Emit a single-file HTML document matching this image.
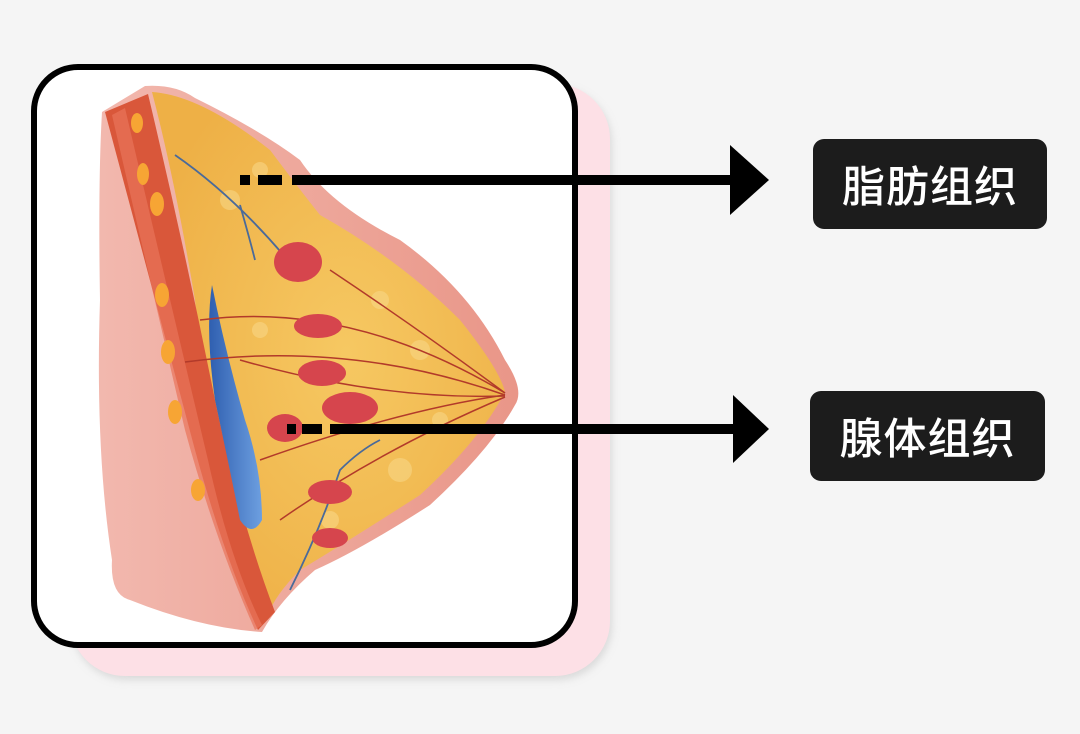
<!DOCTYPE html>
<html><head><meta charset="utf-8"><style>
html,body{margin:0;padding:0;background:#f5f5f5;}
body{width:1080px;height:734px;position:relative;overflow:hidden;font-family:"Liberation Sans","Noto Sans CJK SC",sans-serif;}
.lbl{position:absolute;background:#1c1c1c;color:#fff;border-radius:11px;font-size:43px;font-weight:500;display:flex;align-items:center;justify-content:center;letter-spacing:1px;}
</style></head><body>
<svg width="1080" height="734" style="position:absolute;left:0;top:0">
<defs>
<filter id="sh" x="-10%" y="-10%" width="130%" height="130%"><feGaussianBlur stdDeviation="4"/></filter>
<radialGradient id="fat" cx="55%" cy="50%" r="60%"><stop offset="0" stop-color="#f6c862"/><stop offset="1" stop-color="#eeb046"/></radialGradient>
<linearGradient id="skin" x1="0" x2="1"><stop offset="0" stop-color="#f2b8ae"/><stop offset="1" stop-color="#e99688"/></linearGradient>
<linearGradient id="blue" x1="0" x2="1"><stop offset="0" stop-color="#2f5fb0"/><stop offset="1" stop-color="#6d9fe0"/></linearGradient>
</defs>
<rect x="72" y="88" width="540" height="592" rx="55" fill="#c8c8c8" filter="url(#sh)" opacity="0.6"/>
<rect x="70" y="84" width="540" height="592" rx="55" fill="#fde0e6"/>
<rect x="34" y="67" width="541" height="578" rx="44" fill="#fff" stroke="#000" stroke-width="6"/>
<!-- skin outline -->
<path d="M102,112 L145,86 Q175,84 195,98 Q260,130 300,160 Q330,205 400,240 Q470,290 505,360 Q525,390 515,405 Q490,450 430,505 Q360,550 315,570 Q280,600 262,632 Q200,628 130,600 Q110,595 112,560 Q95,450 100,300 Q98,180 102,112 Z" fill="url(#skin)"/>
<!-- fat -->
<path d="M152,92 Q200,95 270,150 Q300,190 320,215 Q400,260 460,320 Q500,370 505,392 Q480,440 420,495 Q350,540 300,570 Q275,595 268,615 Q240,560 225,500 Q205,400 195,300 Q175,180 152,92 Z" fill="url(#fat)"/>
<g fill="#f9d98a" opacity="0.55">
<circle cx="230" cy="200" r="10"/><circle cx="260" cy="170" r="8"/><circle cx="380" cy="300" r="9"/><circle cx="420" cy="350" r="10"/><circle cx="400" cy="470" r="12"/><circle cx="330" cy="520" r="9"/><circle cx="260" cy="330" r="8"/><circle cx="440" cy="420" r="8"/>
</g>
<!-- muscle -->
<path d="M105,112 L148,94 Q185,250 215,400 Q240,520 275,612 L258,630 Q225,560 195,450 Q150,280 105,112 Z" fill="#d9573a"/>
<path d="M112,115 L125,108 Q170,300 208,460 Q230,560 262,625 L255,630 Q215,540 185,430 Q150,280 112,115 Z" fill="#e8735a" opacity="0.7"/>
<g fill="#f7a534">
<ellipse cx="157" cy="204" rx="7" ry="12"/><ellipse cx="137" cy="123" rx="6" ry="10"/><ellipse cx="143" cy="174" rx="6" ry="11"/><ellipse cx="162" cy="295" rx="7" ry="12"/><ellipse cx="168" cy="352" rx="7" ry="12"/><ellipse cx="175" cy="412" rx="7" ry="12"/><ellipse cx="198" cy="490" rx="7" ry="11"/>
</g>
<!-- blue vessel -->
<path d="M212,285 Q205,330 215,400 Q230,470 240,520 Q252,538 262,520 Q262,470 245,420 Q225,350 212,285 Z" fill="url(#blue)"/>
<!-- ducts -->
<g stroke="#b23a2a" stroke-width="1.5" fill="none">
<path d="M185,362 Q350,340 505,395"/><path d="M200,320 Q350,300 505,393"/><path d="M260,460 Q400,410 505,395"/><path d="M280,520 Q380,450 505,397"/><path d="M330,270 Q420,330 505,393"/><path d="M240,360 Q380,400 505,396"/>
</g>
<g stroke="#4a6a9a" stroke-width="1.8" fill="none">
<path d="M175,155 Q240,200 300,275"/><path d="M240,205 Q250,240 255,260"/><path d="M290,590 Q320,530 340,470 Q360,450 380,440"/>
</g>
<!-- glands -->
<g fill="#d6454d">
<ellipse cx="298" cy="262" rx="24" ry="20"/><ellipse cx="318" cy="326" rx="24" ry="12"/><ellipse cx="322" cy="373" rx="24" ry="13"/><ellipse cx="350" cy="408" rx="28" ry="16"/><ellipse cx="285" cy="428" rx="18" ry="14"/><ellipse cx="330" cy="492" rx="22" ry="12"/><ellipse cx="330" cy="538" rx="18" ry="10"/>
</g>
<!-- connectors -->
<g fill="#000">
<rect x="240" y="175" width="10" height="10"/><rect x="258" y="175" width="24" height="10"/><rect x="292" y="175" width="450" height="10"/>
<polygon points="730,145 769,180 730,215"/>
<rect x="287" y="424" width="9" height="10"/><rect x="302" y="424" width="20" height="10"/><rect x="330" y="424" width="410" height="10"/>
<polygon points="733,395 769,429 733,463"/>
</g>
</svg>
<div class="lbl" style="left:813px;top:139px;width:234px;height:90px;">脂肪组织</div>
<div class="lbl" style="left:810px;top:391px;width:235px;height:90px;">腺体组织</div>
</body></html>
